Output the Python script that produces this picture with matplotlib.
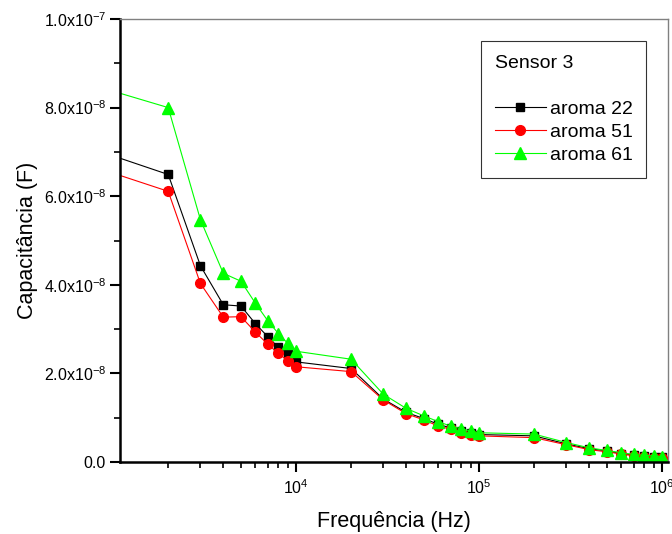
import math
import matplotlib
matplotlib.use("Agg")
import matplotlib.pyplot as plt
from matplotlib.ticker import FixedLocator, FuncFormatter, NullFormatter

plt.rcParams['font.family'] = ['Liberation Sans', 'DejaVu Sans']
plt.rcParams['mathtext.fontset'] = 'custom'
plt.rcParams['mathtext.rm'] = 'Liberation Sans'
plt.rcParams['mathtext.it'] = 'Liberation Sans:italic'
plt.rcParams['mathtext.bf'] = 'Liberation Sans:bold'

freq = [1e3, 2e3, 3e3, 4e3, 5e3, 6e3, 7e3, 8e3, 9e3, 1e4,
        2e4, 3e4, 4e4, 5e4, 6e4, 7e4, 8e4, 9e4, 1e5,
        2e5, 3e5, 4e5, 5e5, 6e5, 7e5, 8e5, 9e5, 1e6]

aroma22 = [6.91, 6.49, 4.43, 3.55, 3.52, 3.12, 2.83, 2.59, 2.44, 2.26,
           2.11, 1.42, 1.12, 0.98, 0.85, 0.77, 0.70, 0.65, 0.62,
           0.59, 0.41, 0.30, 0.25, 0.19, 0.16, 0.13, 0.12, 0.11]
aroma51 = [6.52, 6.11, 4.03, 3.27, 3.28, 2.93, 2.66, 2.45, 2.29, 2.15,
           2.04, 1.40, 1.09, 0.95, 0.81, 0.74, 0.66, 0.62, 0.59,
           0.55, 0.39, 0.28, 0.23, 0.18, 0.14, 0.12, 0.10, 0.09]
aroma61 = [8.37, 8.00, 5.47, 4.26, 4.08, 3.58, 3.19, 2.90, 2.68, 2.50,
           2.32, 1.53, 1.21, 1.04, 0.91, 0.81, 0.75, 0.70, 0.66,
           0.63, 0.44, 0.32, 0.26, 0.21, 0.17, 0.15, 0.14, 0.12]

series_labels = ['aroma 22', 'aroma 51', 'aroma 61']
legend_title = 'Sensor 3'
y_ticks = [0, 2e-8, 4e-8, 6e-8, 8e-8, 1e-7]
y_tick_labels = ['0.0', '2.0x10$^{-8}$', '4.0x10$^{-8}$', '6.0x10$^{-8}$',
                 '8.0x10$^{-8}$', '1.0x10$^{-7}$']

fig = plt.figure(figsize=(6.72, 5.34), dpi=100)
ax = fig.add_axes([120/672, 1-462/534, 548/672, 443/534])

scale = 1e-8
ax.plot(freq, [v*scale for v in aroma22], color='black', lw=0.8,
        marker='s', ms=6, mec='black', mfc='black', label=series_labels[0])
ax.plot(freq, [v*scale for v in aroma51], color='red', lw=0.8,
        marker='o', ms=7, mec='red', mfc='red', label=series_labels[1])
ax.plot(freq, [v*scale for v in aroma61], color='#00ff00', lw=0.8,
        marker='^', ms=8, mec='#00ff00', mfc='#00ff00', label=series_labels[2])

ax.set_xscale('log')
ax.set_xlim(1.09e3, 1.08e6)
ax.set_ylim(0, 1e-7)

ax.yaxis.set_major_locator(FixedLocator(y_ticks))
ax.set_yticklabels(y_tick_labels)
ax.yaxis.set_minor_locator(FixedLocator([1e-8, 3e-8, 5e-8, 7e-8, 9e-8]))

ax.xaxis.set_major_locator(FixedLocator([1e4, 1e5, 1e6]))
ax.xaxis.set_major_formatter(FuncFormatter(
    lambda v, p: '10$^{%d}$' % round(math.log10(v))))
minors = [m * 10**e for e in (3, 4, 5) for m in range(2, 10)]
ax.xaxis.set_minor_locator(FixedLocator(minors))
ax.xaxis.set_minor_formatter(NullFormatter())

ax.tick_params(which='major', direction='out', length=7, width=1.5,
               labelsize=11.5, pad=3)
ax.tick_params(which='minor', direction='out', length=4, width=1.2)
ax.tick_params(axis='x', which='major', pad=5)

for s in ('left', 'bottom'):
    ax.spines[s].set_linewidth(1.8)
    ax.spines[s].set_color('black')
for s in ('top', 'right'):
    ax.spines[s].set_linewidth(1.0)
    ax.spines[s].set_color('#808080')

ax.set_xlabel('Frequência (Hz)', fontsize=15.5, labelpad=10)
ax.set_ylabel('Capacitância (F)', fontsize=15.5, labelpad=4)

leg = ax.legend(title=legend_title + '\n', loc='upper right',
                bbox_to_anchor=(646/672, 1-41/534), bbox_transform=fig.transFigure,
                fontsize=14, title_fontsize=14, frameon=True, fancybox=False,
                handlelength=2.6, borderpad=0.7, labelspacing=0.28,
                handletextpad=0.2, alignment='left', borderaxespad=0)
leg.get_title().set_linespacing(1.5)
leg.get_frame().set_edgecolor('black')
leg.get_frame().set_linewidth(0.8)

fig.savefig('out.png', dpi=100)
